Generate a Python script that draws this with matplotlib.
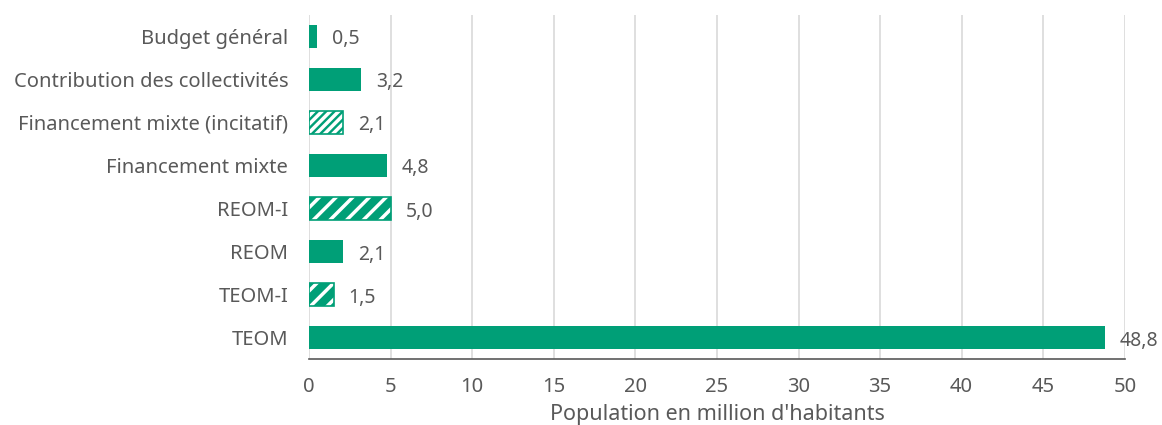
import matplotlib.pyplot as plt
import numpy as np

plt.rcParams['font.family'] = ['Noto Sans', 'DejaVu Sans']
plt.rcParams['hatch.linewidth'] = 2.5

# donnees
categories = ['TEOM', 'TEOM-I', 'REOM', 'REOM-I', 'Financement mixte',
              'Financement mixte (incitatif)', 'Contribution des collectivités',
              'Budget général']
valeurs = [48.8, 1.5, 2.1, 5.0, 4.8, 2.1, 3.2, 0.5]
hachures = ['', '//', '', '//', '', '////', '', '']

vert = '#009f77'
gris = '#595959'

fig = plt.figure(figsize=(11.62, 4.25), dpi=100)
ax = fig.add_axes([0.266, 0.155, 0.702, 0.81])

y = np.arange(len(categories))
for i, (v, h) in enumerate(zip(valeurs, hachures)):
    if h:
        ax.barh(y[i], v, height=0.53, color=vert, edgecolor='white', hatch=h, linewidth=0, zorder=3)
        ax.barh(y[i], v, height=0.53, fill=False, edgecolor=vert, linewidth=1.2, zorder=4)
    else:
        ax.barh(y[i], v, height=0.53, color=vert, linewidth=0, zorder=3)
    ax.text(v + 0.9, y[i] - 0.07, f'{v:.1f}'.replace('.', ','), va='center', ha='left',
            fontsize=14, color=gris)

ax.set_xlim(0, 50)
ax.set_ylim(-0.5, len(categories) - 0.5)
ax.set_xticks(np.arange(0, 51, 5))
ax.set_yticks(y)
ax.set_yticklabels(categories)
ax.tick_params(axis='both', length=0, labelsize=14.5, colors=gris)
ax.tick_params(axis='x', pad=13)
ax.tick_params(axis='y', pad=15)
ax.grid(axis='x', color='#d9d9d9', linewidth=1.2, zorder=0)
for s in ['top', 'right', 'left']:
    ax.spines[s].set_visible(False)
ax.spines['bottom'].set_color('#595959')
ax.spines['bottom'].set_linewidth(1.2)
ax.set_xlabel("Population en million d'habitants", fontsize=15.5, color=gris, labelpad=5)

fig.savefig('out.png', dpi=100)
